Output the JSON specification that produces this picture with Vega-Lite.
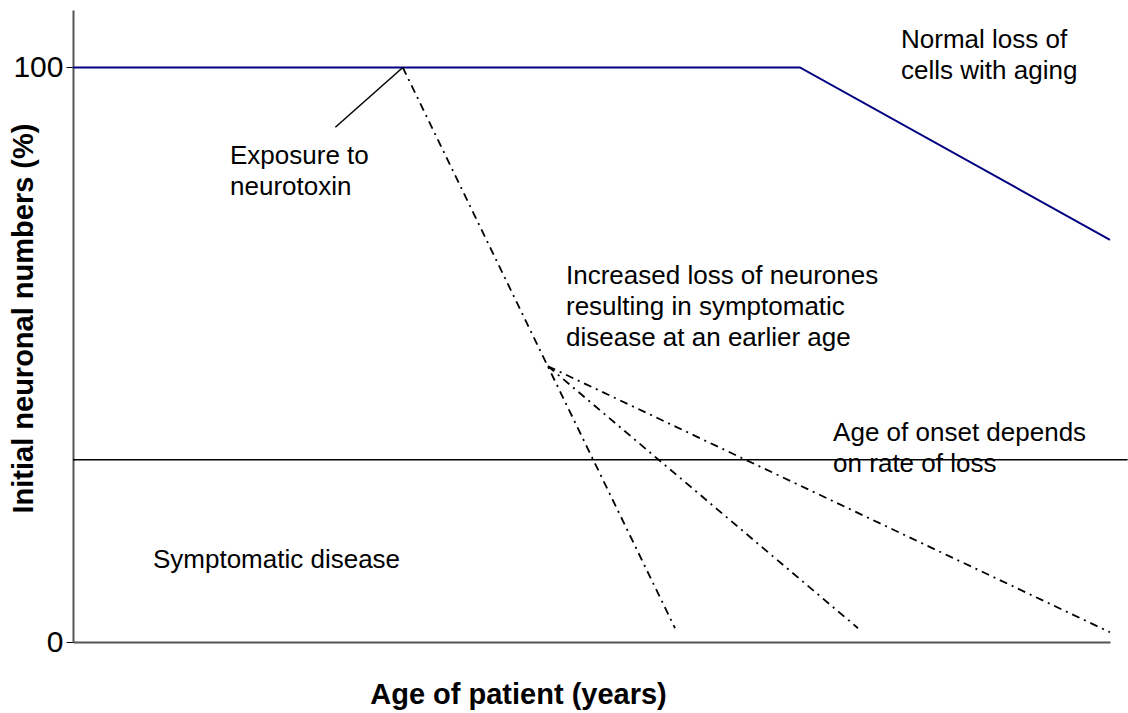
{
  "$schema": "https://vega.github.io/schema/vega-lite/v6.json",
  "width": 1037,
  "height": 632,
  "autosize": {"type": "none"},
  "padding": {"left": 73, "top": 10, "right": 18, "bottom": 71},
  "background": "white",
  "config": {
    "view": {"stroke": null},
    "font": "Liberation Sans",
    "axis": {"grid": false, "labelFont": "Liberation Sans", "titleFont": "Liberation Sans"}
  },
  "datasets": {
    "lines": [
      {"series": "normal", "x": 0, "y": 100},
      {"series": "normal", "x": 70.1, "y": 100},
      {"series": "normal", "x": 100, "y": 70}
    ],
    "dashed": [
      {"series": "steep", "x": 31.8, "y": 100},
      {"series": "steep", "x": 58.05, "y": 2.4},
      {"series": "middle", "x": 45.8, "y": 48},
      {"series": "middle", "x": 75.7, "y": 2.4},
      {"series": "shallow", "x": 45.8, "y": 48},
      {"series": "shallow", "x": 100, "y": 1.7}
    ],
    "solid": [
      {"series": "leader", "x": 25.3, "y": 89.6},
      {"series": "leader", "x": 31.8, "y": 100},
      {"series": "threshold", "x": 0, "y": 31.7},
      {"series": "threshold", "x": 101.7, "y": 31.7}
    ],
    "labels": [
      {"x": 79.85, "y": 103.4, "text": "Normal loss of"},
      {"x": 79.85, "y": 98.0, "text": "cells with aging"},
      {"x": 15.14, "y": 83.2, "text": "Exposure to"},
      {"x": 15.14, "y": 77.8, "text": "neurotoxin"},
      {"x": 47.54, "y": 62.3, "text": "Increased loss of neurones"},
      {"x": 47.54, "y": 56.9, "text": "resulting in symptomatic"},
      {"x": 47.54, "y": 51.5, "text": "disease at an earlier age"},
      {"x": 73.3, "y": 35.0, "text": "Age of onset depends"},
      {"x": 73.3, "y": 29.6, "text": "on rate of loss"},
      {"x": 7.71, "y": 12.9, "text": "Symptomatic disease"}
    ]
  },
  "layer": [
    {
      "data": {"name": "solid"},
      "mark": {"type": "line", "color": "black", "strokeWidth": 1.5},
      "encoding": {
        "x": {"field": "x", "type": "quantitative", "scale": {"domain": [0, 100], "nice": false, "zero": false},
          "axis": {"title": "Age of patient (years)", "labels": false, "ticks": false, "domainColor": "#555555", "domainWidth": 2,
            "titleFontSize": 29, "titleFontWeight": "bold", "titleColor": "black", "titleX": 445, "titleY": 61, "titleAlign": "center", "titleBaseline": "alphabetic"}},
        "y": {"field": "y", "type": "quantitative", "scale": {"domain": [0, 110], "nice": false},
          "axis": {"title": "Initial neuronal numbers (%)", "values": [0, 100], "labelFontSize": 30, "labelColor": "black", "tickSize": 7, "tickColor": "black", "labelPadding": 3,
            "domainColor": "#555555", "domainWidth": 2,
            "titleFontSize": 29, "titleFontWeight": "bold", "titleColor": "black", "titleAngle": -90, "titleX": -50, "titleY": 308, "titleAlign": "center", "titleBaseline": "middle"}},
        "detail": {"field": "series"}
      }
    },
    {
      "data": {"name": "lines"},
      "mark": {"type": "line", "color": "#000080", "strokeWidth": 2},
      "encoding": {
        "x": {"field": "x", "type": "quantitative"},
        "y": {"field": "y", "type": "quantitative"},
        "detail": {"field": "series"}
      }
    },
    {
      "data": {"name": "dashed"},
      "mark": {"type": "line", "color": "black", "strokeWidth": 1.8, "strokeDash": [8, 5, 2, 5]},
      "encoding": {
        "x": {"field": "x", "type": "quantitative"},
        "y": {"field": "y", "type": "quantitative"},
        "detail": {"field": "series"}
      }
    },
    {
      "data": {"name": "labels"},
      "mark": {"type": "text", "align": "left", "baseline": "alphabetic", "fontSize": 26, "color": "black", "font": "Liberation Sans"},
      "encoding": {
        "x": {"field": "x", "type": "quantitative"},
        "y": {"field": "y", "type": "quantitative"},
        "text": {"field": "text"}
      }
    }
  ]
}
